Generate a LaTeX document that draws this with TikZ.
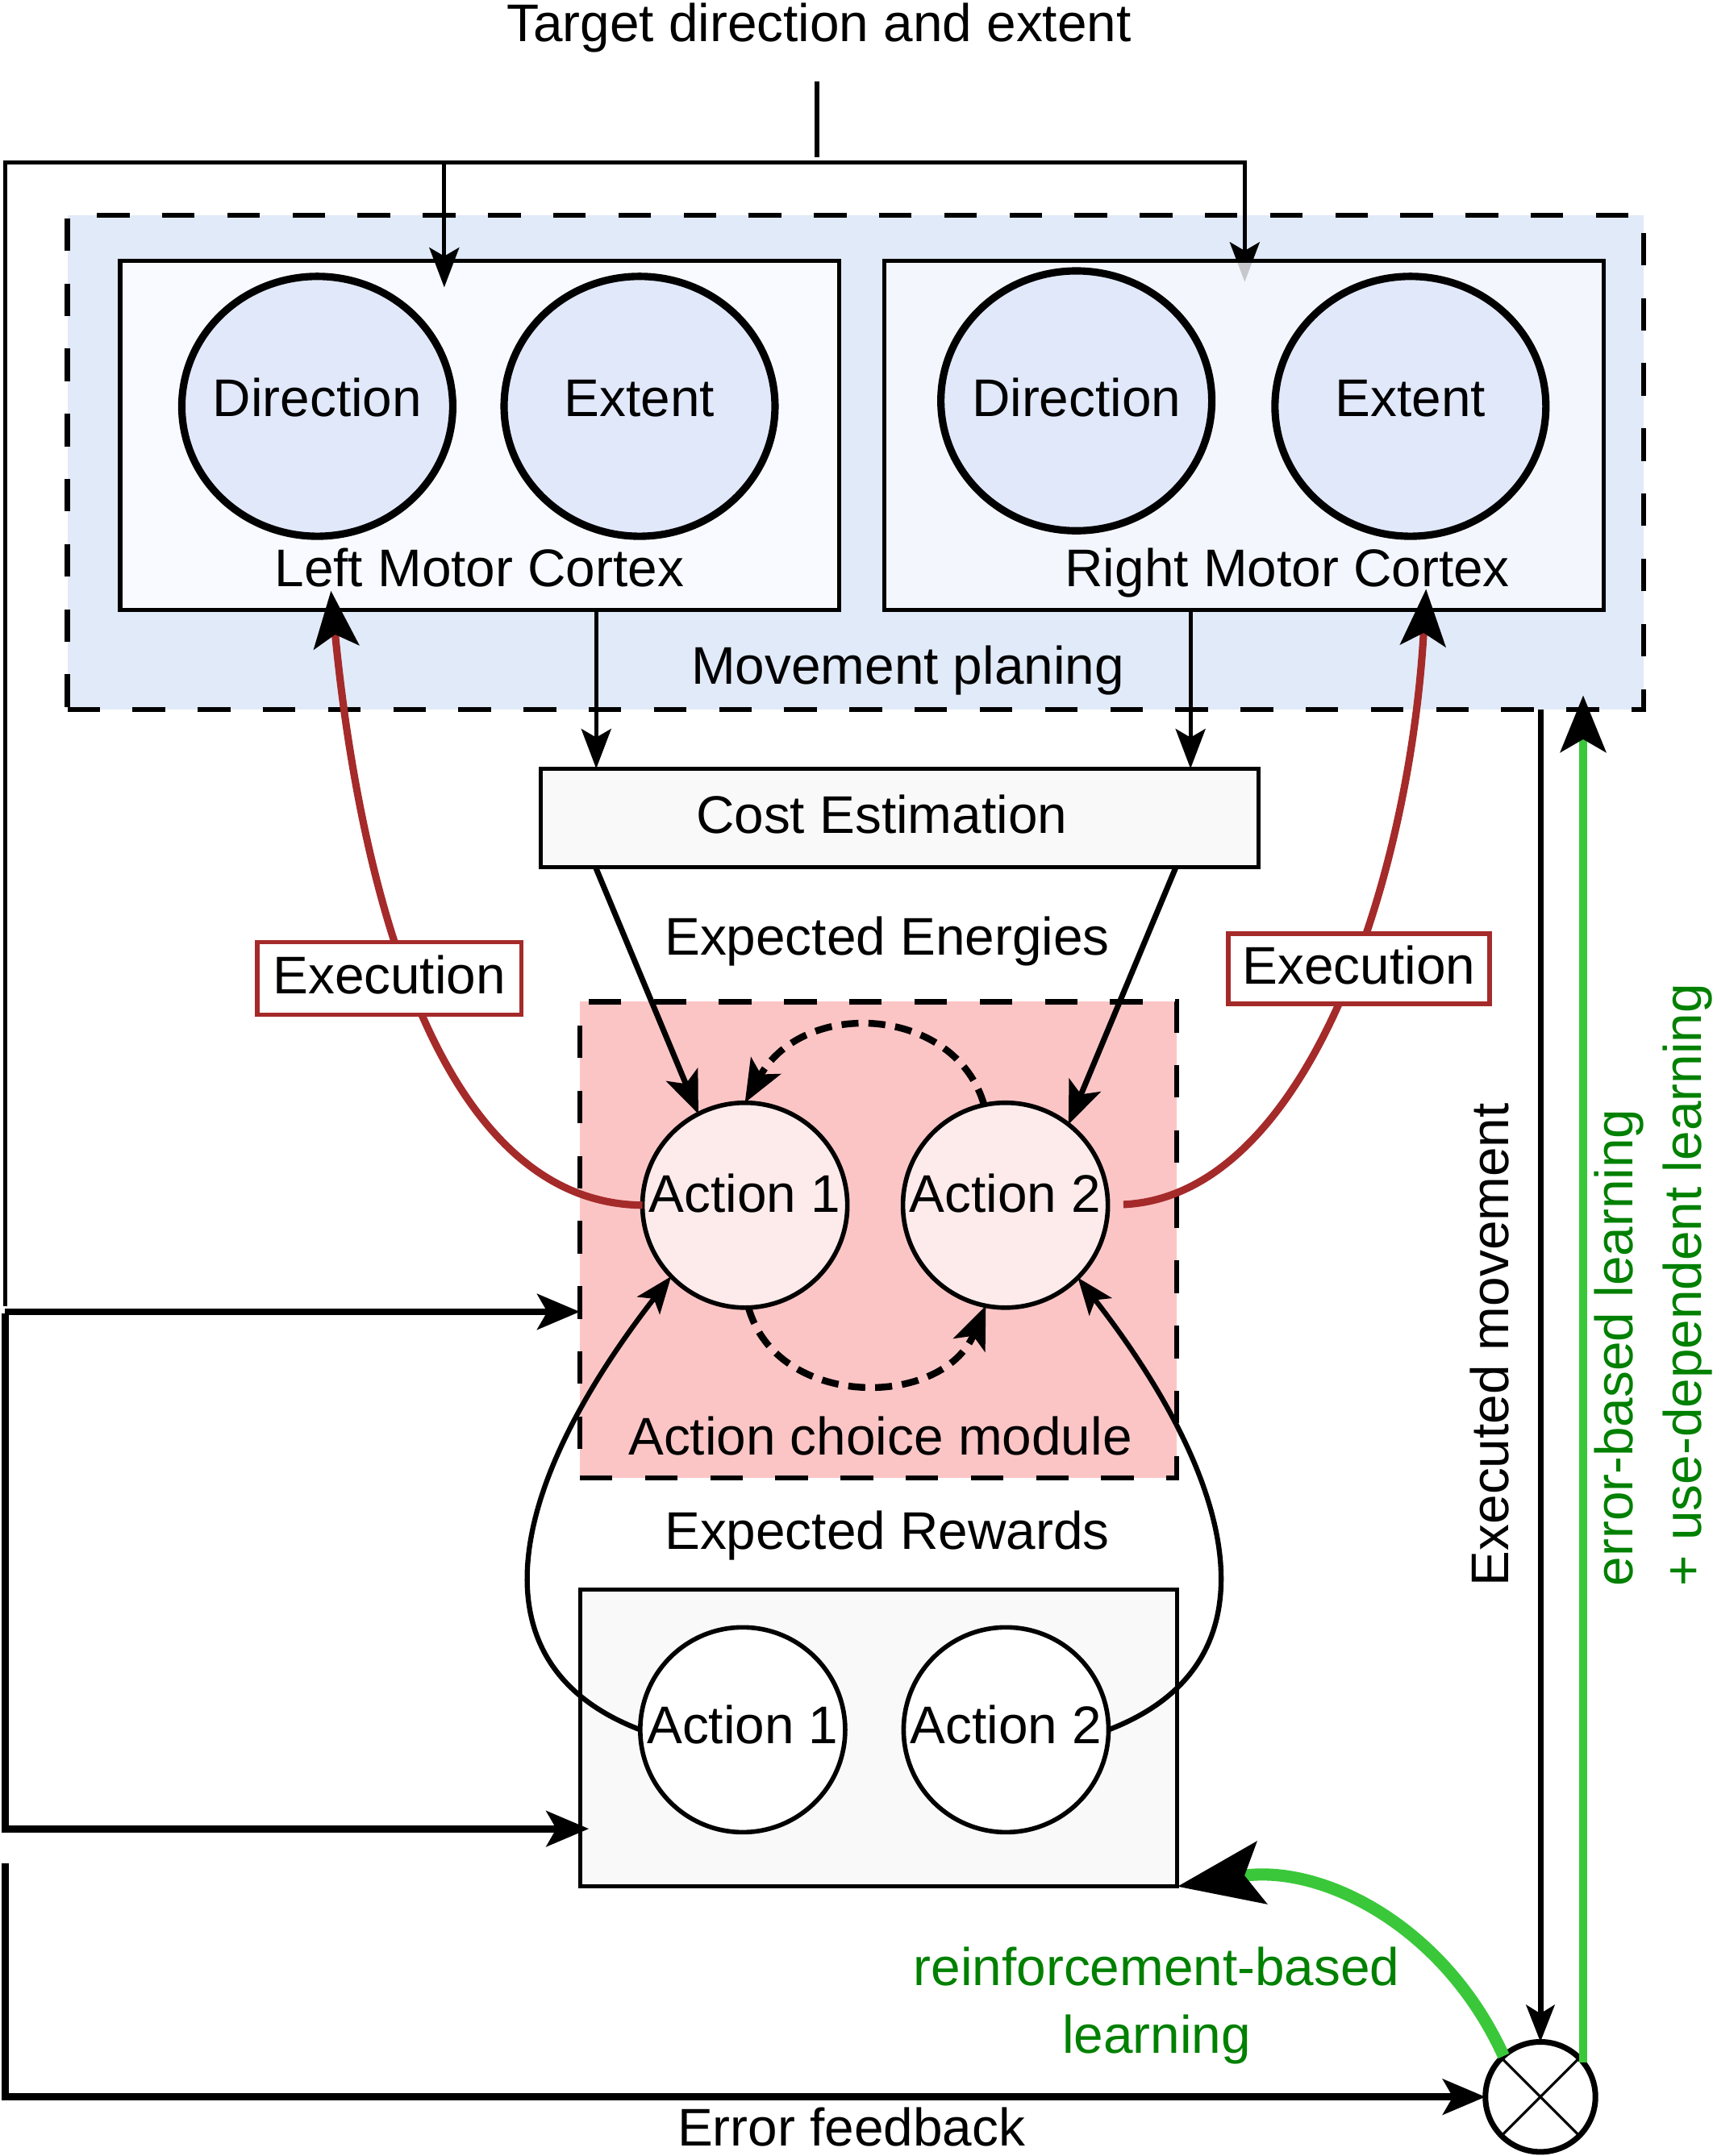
\documentclass[tikz,border=0pt]{standalone}
\usepackage{fontspec}
\setmainfont{Liberation Sans}
\usetikzlibrary{arrows.meta,shapes.geometric}
\newcommand{\myu}{0.017052cm}
\definecolor{mpfill}{HTML}{E1EAF8}
\definecolor{mcfill}{HTML}{F8FAFF}
\definecolor{elfill}{HTML}{E1E8FA}
\definecolor{boxgray}{HTML}{F9F9F9}
\definecolor{modfill}{HTML}{FCC5C5}
\definecolor{actfill}{HTML}{FDEBEB}
\definecolor{exred}{HTML}{A52A2A}
\definecolor{lgreen}{HTML}{3AC83A}
\definecolor{dgreen}{HTML}{008000}
\begin{document}
\begin{tikzpicture}[x=0.017052cm, y=-0.017052cm,
  font=\fontsize{18.7}{24}\selectfont,
  every node/.style={inner sep=0pt, outer sep=0pt},
  lbl/.style={anchor=base},
  dashborder/.style={draw, line width=1.8pt, dash pattern=on 11.5pt off 11.5pt},
  mcbox/.style={rectangle, draw, line width=1.5pt, fill=mcfill, minimum width=522.7*\myu, minimum height=254.2*\myu},
  graybox/.style={rectangle, draw, line width=1.5pt, fill=boxgray},
  ell/.style={ellipse, draw, line width=2.6pt, fill=elfill, minimum width=197*\myu, minimum height=189*\myu, text height=13.4pt},
  act/.style={circle, draw, line width=1.6pt, minimum size=149*\myu, text height=13.4pt},
  execbox/.style={rectangle, draw=exred, line width=1.5pt, fill=white, text height=13.4pt, text depth=2.6pt},
  tarr/.style={line width=1.5pt, -{Stealth[length=14pt,width=10.5pt,inset=3pt]}},
  karr/.style={line width=2.5pt, -{Stealth[length=15pt,width=12.5pt,inset=3.5pt]}},
  medarr/.style={line width=2pt, -{Stealth[length=15pt,width=12pt,inset=3.5pt]}},
  curvarr/.style={line width=1.8pt, -{Stealth[length=13pt,width=10pt,inset=3pt]}},
  dasharr/.style={line width=2.4pt, dash pattern=on 6pt off 3.5pt, -{Stealth[length=15pt,width=12pt,inset=3.5pt]}},
  redc/.style={draw=exred, line width=2.6pt, -{Stealth[length=20pt,width=16pt,inset=4.5pt,color=black]}},
  garr/.style={draw=lgreen, line width=2.9pt, -{Stealth[length=20pt,width=16pt,inset=4.5pt,color=black]}},
  gcurve/.style={draw=lgreen, line width=4.3pt, -{Stealth[length=30pt,width=22pt,inset=6pt,color=black]}},
  emarr/.style={line width=2pt, -{Stealth[length=13pt,width=10pt,inset=3pt]}}
]
\useasboundingbox (0,0) rectangle (1245,1568);

% movement planning region
\node[rectangle, fill=mpfill, dashborder, minimum width=1146*\myu, minimum height=359.4*\myu] (mp) at (622,336.3) {};

% target input
\node[lbl] (title) at (595.5,30) {Target direction and extent};
\coordinate (t0) at (594,59);
\coordinate (t1) at (594,114.5);
\draw[line width=1.5pt] (t0) -- (t1);
\coordinate (lend) at (3.6,950);
\coordinate (lcorner) at (3.6,118);
\coordinate (rtip) at (905,205);
\draw[tarr] (lend) -- (lcorner) -| (rtip);

% motor cortices
\node[mcbox] (lmc) at (348.65,316.7) {};
\node[mcbox, fill opacity=0.8] (rmc) at (904.5,316.7) {};
\draw[tarr, shorten >=-9.4pt] (323,118) -- (323,0 |- lmc.north);

\node[ell, text depth=6.1pt] (ldir) at (230.7,295.5) {\makebox[0pt]{Direction}};
\node[ell, text depth=6.1pt] (lext) at (465,295.5) {\makebox[0pt]{Extent}};
\node[ell, text depth=2.2pt] (rdir) at (782.6,291.5) {\makebox[0pt]{Direction}};
\node[ell, text depth=6.1pt] (rext) at (1025.5,295.5) {\makebox[0pt]{Extent}};

\node[lbl] (lmclbl) at (348.5,426.6) {Left Motor Cortex};
\node[lbl] (rmclbl) at (936,426.6) {Right Motor Cortex};
\node[lbl] (mplbl) at (660,497.6) {Movement planing};

% cost estimation
\node[graybox, minimum width=522*\myu, minimum height=71.6*\myu] (cost) at (654,594.8) {};
\node[lbl] (costlbl) at (641,606) {Cost Estimation};
\draw[tarr] (433.5,0 |- lmc.south) -- (433.5,0 |- cost.north);
\draw[tarr] (865.6,0 |- rmc.south) -- (865.6,0 |- cost.north);

\node[lbl] (energ) at (645,694.5) {Expected Energies};

% action choice module
\node[rectangle, fill=modfill, dashborder, minimum width=434.1*\myu, minimum height=346.5*\myu] (mod) at (638.65,901.75) {};
\node[lbl] (modlbl) at (640,1058) {Action choice module};
\node[act, fill=actfill, text depth=8.55pt] (a1) at (541.6,876.5) {\makebox[0pt]{Action 1}};
\node[act, fill=actfill, text depth=8.55pt] (a2) at (731,876.5) {\makebox[0pt]{Action 2}};

\draw[medarr] (433,0 |- cost.south) -- (a1.117);
\draw[medarr] (855,0 |- cost.south) -- (a2.52);

\draw[dasharr] (a2.102) .. controls (695,732) and (585,725) .. (a1.90);
\draw[dasharr] (a1.272) .. controls (565,1025) and (685,1025) .. (a2.259);

% expected rewards
\node[lbl] (rew) at (645,1127) {Expected Rewards};
\node[graybox, minimum width=434*\myu, minimum height=216*\myu] (bb) at (639,1264) {};
\node[act, fill=white, text depth=3.7pt] (ba1) at (540,1258) {\makebox[0pt]{Action 1}};
\node[act, fill=white, text depth=3.7pt] (ba2) at (731.5,1258) {\makebox[0pt]{Action 2}};

\draw[curvarr] (ba1.west) .. controls (340,1210) and (370,1080) .. (a1.224);
\draw[curvarr] (ba2.east) .. controls (931,1210) and (901,1080) .. (a2.315);

% execution paths
\draw[redc, shorten >=-6.9pt] (a1.west) .. controls (320,875) and (262,650) .. (242,0 |- lmc.south);
\draw[redc, shorten <=5.5pt, shorten >=-7.5pt] (a2.east) .. controls (950,870) and (1025,640) .. (1036,0 |- rmc.south);
\node[execbox, minimum width=192*\myu, minimum height=53*\myu] (exL) at (283,711.5) {\makebox[0pt]{Execution}};
\node[execbox, minimum width=190*\myu, minimum height=51*\myu] (exR) at (988,704.5) {\makebox[0pt]{Execution}};

% left feedback lines
\coordinate (la) at (3.6,954);
\draw[karr] (la) -- (mod.west |- la);
\coordinate (lb) at (3.6,955);
\draw[karr, shorten >=-3pt] (lb) |- (bb.west |- 0,1330);

% comparator
\node[circle, draw, line width=2pt, fill=white, minimum size=80*\myu] (ox) at (1120,1525) {};
\draw[line width=0.9pt] (ox.45) -- (ox.225) (ox.135) -- (ox.315);

\coordinate (lc) at (3.6,1355);
\draw[karr] (lc) |- (ox.west);
\node[lbl] (eflbl) at (619,1560.5) {Error feedback};

\draw[emarr] (ox.north |- mp.south) -- (ox.north);
\node[rotate=90, anchor=base west] (emlbl) at (1097,1153.5) {Executed movement};

\draw[garr, shorten >=-5pt] (ox.39) -- (ox.39 |- mp.south);
\node[rotate=90, anchor=north west, align=left, text=dgreen] (glbl) at (1159.5,1153.5) {error-based learning\\+ use-dependent learning};

\draw[gcurve] (ox.132) .. controls (1050,1400) and (960,1355) .. (bb.south east);
\node[anchor=north, align=center, text=dgreen] (rlbl) at (841,1416) {reinforcement-based\\learning};
\end{tikzpicture}
\end{document}
